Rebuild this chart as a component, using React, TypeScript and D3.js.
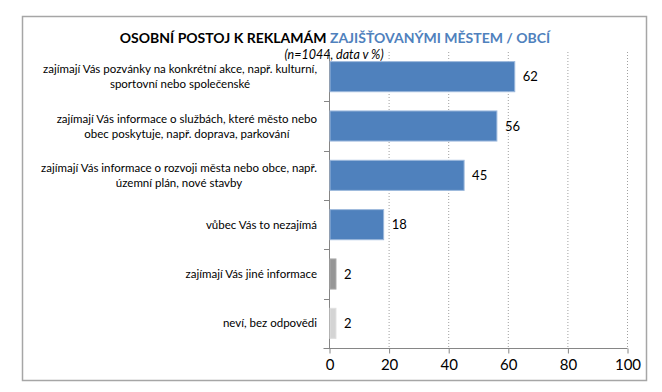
import React, { useRef, useEffect } from 'react'
import * as d3 from 'd3'

// data
const categories: string[][] = [
    ['zajímají Vás pozvánky na konkrétní akce, např. kulturní,', 'sportovní nebo společenské'],
    ['zajímají Vás informace o službách, které město nebo', 'obec poskytuje, např. doprava, parkování'],
    ['zajímají Vás informace o rozvoji města nebo obce, např.', 'územní plán, nové stavby'],
    ['vůbec Vás to nezajímá'],
    ['zajímají Vás jiné informace'],
    ['neví, bez odpovědi'],
]
const values = [62, 56, 45, 18, 2, 2]
const xTicks = [0, 20, 40, 60, 80, 100]
const titleBlack = 'OSOBNÍ POSTOJ K REKLAMÁM '
const titleBlue = 'ZAJIŠŤOVANÝMI MĚSTEM / OBCÍ'
const subtitle = '(n=1044, data v %)'

const barFill = ['#4f81bd', '#4f81bd', '#4f81bd', '#4f81bd', '#969696', '#d4d4d4']
const barStroke = ['#9cb8dc', '#9cb8dc', '#9cb8dc', '#9cb8dc', '#a8a8a8', '#e0e0e0']

const FONT = 'Lato, "Open Sans", sans-serif'

export default function App() {
    const visEl = useRef<HTMLDivElement>(null)
    const width = 662
    const height = 392

    useEffect(() => {
        document.body.style.margin = '0'
        const root = d3.select(visEl.current)
        root.selectAll('*').remove()
        const svg = root.append('svg')
            .attr('width', width)
            .attr('height', height)
            .style('display', 'block')
            .style('font-family', FONT)

        svg.append('rect').attr('width', width).attr('height', height).attr('fill', '#fff')

        // chart frame
        svg.append('rect')
            .attr('x', 22.5).attr('y', 16.5)
            .attr('width', 624).attr('height', 364)
            .attr('fill', '#fff')
            .attr('stroke', '#a6a6a6')
            .attr('stroke-width', 1.5)

        const margin = { top: 52, left: 329, right: 35, bottom: 44 }
        const innerWidth = width - margin.left - margin.right
        const innerHeight = height - margin.top - margin.bottom

        const xScale = d3.scaleLinear().domain([0, 100]).range([0, innerWidth])
        const yScale = d3.scaleBand<number>()
            .domain(d3.range(values.length))
            .range([0, innerHeight])
            .paddingInner(0.39)
            .paddingOuter(0.195)

        const g = svg.append('g')
            .attr('transform', `translate(${margin.left},${margin.top})`)

        // dotted gridlines
        g.selectAll('.grid').data(xTicks.filter(t => t > 0)).enter().append('line')
            .attr('x1', d => xScale(d) + 0.5).attr('x2', d => xScale(d) + 0.5)
            .attr('y1', 0).attr('y2', innerHeight)
            .attr('stroke', '#a0a0a0')
            .attr('stroke-width', 1)
            .attr('stroke-dasharray', '1,2')

        // bottom axis
        const xAxis = d3.axisBottom(xScale).tickValues(xTicks).tickSize(5).tickPadding(6)
        const xAxisG = g.append('g')
            .attr('transform', `translate(0.5,${innerHeight + 0.5})`)
            .call(xAxis)
        xAxisG.select('.domain').attr('stroke', '#868686').attr('d', `M-6,0H${innerWidth}`)
        xAxisG.selectAll('.tick line').attr('stroke', '#868686')
        xAxisG.selectAll('.tick text')
            .attr('fill', '#000')
            .style('font-family', FONT)
            .style('font-size', '15px')

        // left axis line with ticks between categories
        const step = yScale.step()
        const bounds = d3.range(values.length).map(i => i * step + (innerHeight - step * values.length) / 2)
        g.append('line')
            .attr('x1', 0.5).attr('x2', 0.5)
            .attr('y1', 0).attr('y2', innerHeight)
            .attr('stroke', '#868686')
        g.selectAll('.ytick').data(bounds.slice(1)).enter().append('line')
            .attr('x1', -5).attr('x2', 0.5)
            .attr('y1', d => Math.round(d) + 0.5).attr('y2', d => Math.round(d) + 0.5)
            .attr('stroke', '#868686')

        // bars
        g.selectAll('.bar').data(values).enter().append('rect')
            .attr('x', 1)
            .attr('y', (d, i) => yScale(i)!)
            .attr('width', d => xScale(d))
            .attr('height', yScale.bandwidth())
            .attr('fill', (d, i) => barFill[i])
            .attr('stroke', (d, i) => barStroke[i])
            .attr('stroke-width', 1)

        // value labels
        g.selectAll('.val').data(values).enter().append('text')
            .attr('x', d => xScale(d) + 9)
            .attr('y', (d, i) => yScale(i)! + yScale.bandwidth() / 2)
            .attr('dy', '0.36em')
            .attr('font-size', 13)
            .attr('fill', '#000')
            .text(d => d)

        // category labels, lines centred in a right-aligned block
        const labelRight = -12
        categories.forEach((lines, i) => {
            const cy = yScale(i)! + yScale.bandwidth() / 2
            const lg = g.append('g')
            const texts = lines.map((line, j) => lg.append('text')
                .attr('y', cy + (j - (lines.length - 1) / 2) * 15)
                .attr('dy', '0.35em')
                .attr('font-size', 11.5)
                .attr('fill', '#000')
                .text(line))
            const widths = texts.map(t => (t.node() as SVGTextElement).getComputedTextLength())
            const maxW = d3.max(widths) || 0
            texts.forEach(t => t.attr('x', labelRight - maxW / 2).attr('text-anchor', 'middle'))
        })

        // title
        const title = svg.append('text')
            .attr('x', 335).attr('y', 43)
            .attr('text-anchor', 'middle')
            .attr('font-size', 14)
            .attr('font-weight', 'bold')
        title.append('tspan').attr('fill', '#000').text(titleBlack)
        title.append('tspan').attr('fill', '#4f81bd').text(titleBlue)

        svg.append('text')
            .attr('x', 334).attr('y', 59)
            .attr('text-anchor', 'middle')
            .attr('font-size', 12.5)
            .attr('font-style', 'italic')
            .attr('fill', '#000')
            .text(subtitle)
    }, [])

    return (
        <div>
            <div ref={visEl}></div>
        </div>
    )
}
